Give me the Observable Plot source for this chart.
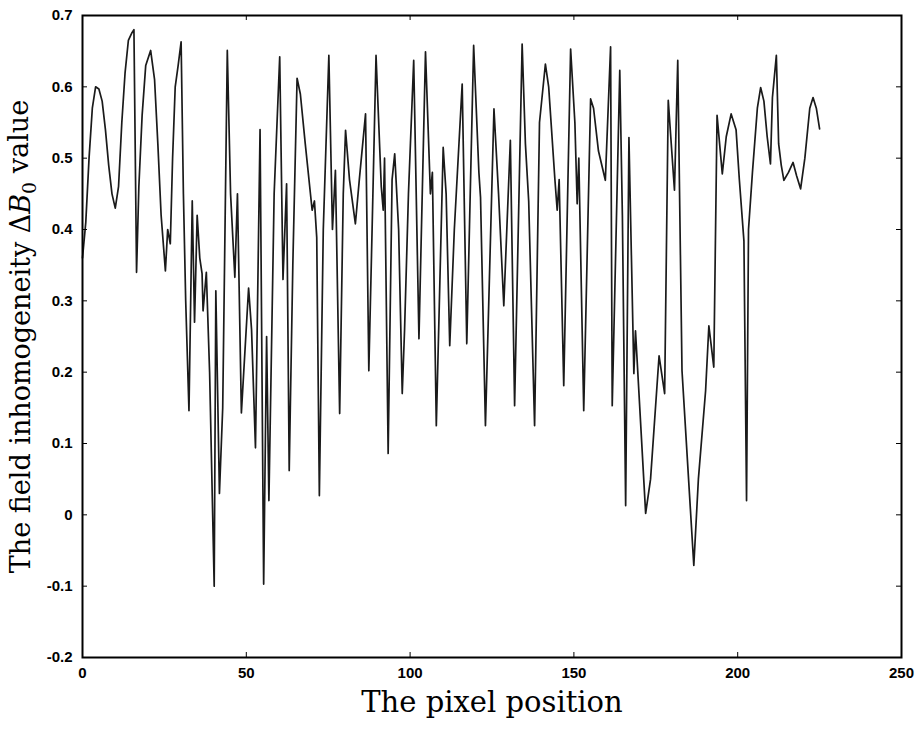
<!DOCTYPE html>
<html><head><meta charset="utf-8">
<script src="https://cdn.jsdelivr.net/npm/d3@7"></script>
<script src="https://cdn.jsdelivr.net/npm/@observablehq/plot@0.6"></script>
<style>body{margin:0;background:#fff}</style>
</head><body><div id="chart"></div>
<script>
const pixelPosition = [0,1,2,3,4,5,6,7,8,9,10,11,12,13,14,15,15.7,16.5,17.2,18.2,19.3,20.8,22,23,24,25.3,26,26.8,27.5,28.3,29.2,30.1,30.8,31.5,32.5,33.5,34.2,35,35.8,36.5,36.8,37.8,38.8,40.2,40.7,41.8,42.8,44.2,45.2,46.5,47.3,48.5,50.7,51.6,52.8,54.2,55.3,56.2,56.9,58.5,60.2,61.2,62.3,63.1,64.2,65.5,66.5,68,70.1,70.8,71.5,72.3,73.5,75.2,76.3,77.2,78.5,79.6,80.3,81.5,83.3,84.5,86.4,87.4,88.4,89.6,91.2,91.8,92.2,93.3,94.5,95.3,96.5,97.6,98.3,99.5,101.1,102.7,104.7,106.2,106.8,108,110.1,111,112.1,113.5,115.9,117.3,119.4,121,121.5,123,125.6,127,128.6,130.6,131.9,134.2,135.2,136.2,138,139.5,141.3,142.3,144.2,144.9,145.5,146.9,149,150.3,151,151.5,153,155.1,156,157.5,159.6,161.2,161.7,164,164.8,165.8,166.8,168.3,168.8,171.9,173.4,176,177.7,178.8,180.7,181.7,183,186.6,188,190.2,191.2,192.7,193.7,195.3,196.5,198,199.5,200.5,201.9,202.7,203.3,204.5,206,207,208,209,210,210.6,211.8,212.5,213.3,214.1,215.5,216.9,218,219.2,220.5,222,223,224,225];
const fieldValue = [0.36,0.41,0.50,0.57,0.60,0.597,0.58,0.54,0.49,0.45,0.43,0.46,0.55,0.62,0.665,0.675,0.68,0.34,0.46,0.56,0.63,0.651,0.61,0.52,0.42,0.342,0.40,0.38,0.50,0.60,0.63,0.663,0.45,0.30,0.146,0.44,0.27,0.42,0.36,0.338,0.286,0.34,0.20,-0.10,0.314,0.03,0.15,0.651,0.45,0.333,0.45,0.143,0.318,0.26,0.094,0.54,-0.097,0.25,0.02,0.45,0.642,0.33,0.464,0.062,0.35,0.612,0.59,0.52,0.427,0.44,0.389,0.027,0.40,0.644,0.40,0.483,0.142,0.45,0.539,0.47,0.408,0.47,0.562,0.202,0.40,0.644,0.46,0.427,0.50,0.086,0.47,0.506,0.40,0.17,0.258,0.45,0.637,0.247,0.649,0.45,0.48,0.125,0.515,0.45,0.237,0.40,0.604,0.24,0.658,0.48,0.445,0.125,0.569,0.45,0.293,0.525,0.153,0.66,0.52,0.44,0.125,0.55,0.632,0.60,0.47,0.427,0.47,0.181,0.653,0.55,0.436,0.50,0.146,0.583,0.57,0.51,0.469,0.656,0.153,0.623,0.42,0.013,0.529,0.198,0.258,0.002,0.05,0.223,0.17,0.581,0.455,0.637,0.202,-0.071,0.05,0.174,0.265,0.207,0.56,0.478,0.53,0.562,0.54,0.47,0.384,0.02,0.40,0.48,0.57,0.599,0.58,0.53,0.492,0.585,0.644,0.52,0.49,0.469,0.48,0.494,0.475,0.457,0.50,0.57,0.585,0.57,0.541];
const xTicks = [0, 50, 100, 150, 200, 250];
const yTicks = [-0.2, -0.1, 0, 0.1, 0.2, 0.3, 0.4, 0.5, 0.6, 0.7];
const xLabel = "The pixel position";
const yLabel = "The field inhomogeneity ΔB0 value";

const data = pixelPosition.map((x, i) => ({x, y: fieldValue[i]}));
const W = 919, H = 729, mt = 15, mr = 18, mb = 72, ml = 82;
const innerH = H - mt - mb, innerW = W - ml - mr;
const serif = "'DejaVu Serif', 'Liberation Serif', serif";
const sans = "'Liberation Sans', Arial, sans-serif";

const chart = Plot.plot({
  width: W, height: H,
  marginTop: mt, marginRight: mr, marginBottom: mb, marginLeft: ml,
  x: {domain: [0, 250]},
  y: {domain: [-0.2, 0.7]},
  style: {background: "#fff", color: "#000"},
  marks: [
    Plot.line(data, {x: "x", y: "y", stroke: "#1a1a1a", strokeWidth: 1.7}),
    Plot.ruleX(xTicks, {x: d => d, insetTop: innerH - 5, stroke: "#000"}),
    Plot.ruleX(xTicks, {x: d => d, insetBottom: innerH - 5, stroke: "#000"}),
    Plot.ruleY(yTicks, {y: d => d, insetRight: innerW - 5, stroke: "#000"}),
    Plot.ruleY(yTicks, {y: d => d, insetLeft: innerW - 5, stroke: "#000"}),
    Plot.frame({stroke: "#000", strokeWidth: 2}),
    Plot.axisX(xTicks, {tickSize: 0, tickPadding: 10, fontSize: 15, fontWeight: "bold", fontFamily: sans, label: null, tickFormat: d => String(d)}),
    Plot.axisY(yTicks, {tickSize: 0, tickPadding: 10, fontSize: 15, fontWeight: "bold", fontFamily: sans, label: null, tickFormat: d => String(d)}),
    Plot.text([xLabel], {text: d => d, frameAnchor: "bottom", textAnchor: "middle", dy: 54, fontSize: 29, fontFamily: serif, fill: "#000"}),
    Plot.text([yLabel], {text: d => d, frameAnchor: "left", textAnchor: "middle", dx: -61, rotate: -90, fontSize: 27, fontFamily: serif, fill: "#000"})
  ]
});
document.getElementById("chart").appendChild(chart);

// Style the ΔB0 part with italic B and subscript 0
d3.select(chart).selectAll("text").filter(function() { return this.textContent === yLabel; })
  .each(function() {
    const t = d3.select(this);
    t.text(null);
    t.append("tspan").text("The field inhomogeneity Δ");
    t.append("tspan").attr("font-style", "italic").text("B");
    t.append("tspan").attr("font-size", "19").attr("dy", "0.3em").text("0");
    t.append("tspan").attr("dy", "-0.3em").text(" value");
  });
</script>
</body></html>
